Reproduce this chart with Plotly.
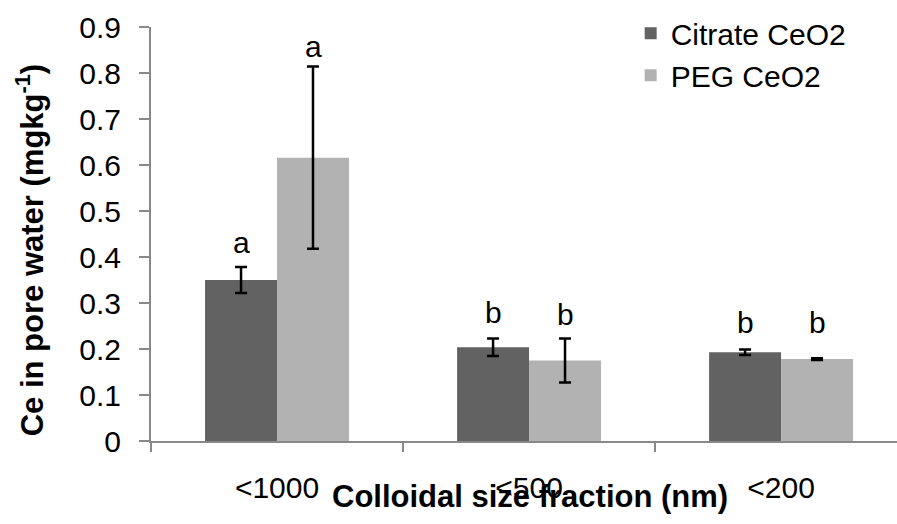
import plotly.graph_objects as go

categories = ["<1000", "<500", "<200"]
citrate = [0.350, 0.204, 0.193]
citrate_err = [0.028, 0.019, 0.006]
peg = [0.616, 0.175, 0.178]
peg_err = [0.198, 0.048, 0.002]
citrate_letters = ["a", "b", "b"]
peg_letters = ["a", "b", "b"]
citrate_letter_y = [0.431, 0.279, 0.258]
peg_letter_y = [0.858, 0.275, 0.258]
y_ticks = [0, 0.1, 0.2, 0.3, 0.4, 0.5, 0.6, 0.7, 0.8, 0.9]

FONT = "Liberation Sans, Arial, sans-serif"
AX = "#898989"

fig = go.Figure()
fig.add_trace(go.Bar(
    name="Citrate CeO2", x=categories, y=citrate,
    marker=dict(color="#626262", line=dict(width=0)),
    error_y=dict(type="data", array=citrate_err, color="black", thickness=2.5, width=6),
))
fig.add_trace(go.Bar(
    name="PEG CeO2", x=categories, y=peg,
    marker=dict(color="#b2b2b2", line=dict(width=0)),
    error_y=dict(type="data", array=peg_err, color="black", thickness=2.5, width=6),
))

annotations = []
for c, l, yv in zip(categories, citrate_letters, citrate_letter_y):
    annotations.append(dict(x=c, y=yv, xref="x", yref="y", text=l, showarrow=False,
                            xshift=-36, yanchor="middle", font=dict(size=30, color="black", family=FONT)))
for c, l, yv in zip(categories, peg_letters, peg_letter_y):
    annotations.append(dict(x=c, y=yv, xref="x", yref="y", text=l, showarrow=False,
                            xshift=36, yanchor="middle", font=dict(size=30, color="black", family=FONT)))
annotations.append(dict(x=0.508, y=-0.134, xref="paper", yref="paper",
                        text="<b>Colloidal size fraction (nm)</b>", showarrow=False,
                        xanchor="center", yanchor="middle",
                        font=dict(size=31, color="black", family=FONT)))
annotations.append(dict(x=-0.162, y=0.461, xref="paper", yref="paper",
                        text="<b>Ce in pore water (mgkg<sup>-1</sup>)</b>", showarrow=False,
                        textangle=-90, xanchor="center", yanchor="middle",
                        font=dict(size=31, color="black", family=FONT)))

fig.update_layout(
    width=897, height=524,
    margin=dict(l=151, r=0, t=27, b=83),
    paper_bgcolor="white", plot_bgcolor="white",
    barmode="group", bargap=0.429, bargroupgap=0,
    font=dict(family=FONT, size=30, color="black"),
    showlegend=True,
    legend=dict(x=0.643, y=1.048, xanchor="left", yanchor="top",
                font=dict(size=30, family=FONT, color="black"),
                bgcolor="rgba(0,0,0,0)", itemwidth=30, tracegroupgap=0),
    annotations=annotations,
    xaxis=dict(range=[-0.5, 2.46], showline=True, linecolor=AX, linewidth=2,
               ticks="outside", tickson="boundaries", ticklen=9, tickcolor=AX, tickwidth=2,
               showgrid=False, zeroline=False, ticklabelstandoff=19,
               tickfont=dict(size=30, family=FONT, color="black")),
    yaxis=dict(range=[0, 0.9], tickvals=y_ticks, ticktext=[("%g" % v) for v in y_ticks],
               showline=True, linecolor=AX, linewidth=2,
               ticks="outside", ticklen=10, tickcolor=AX, tickwidth=2,
               showgrid=False, zeroline=False, ticklabelstandoff=12,
               tickfont=dict(size=30, family=FONT, color="black")),
)

fig.write_html("out.html")
